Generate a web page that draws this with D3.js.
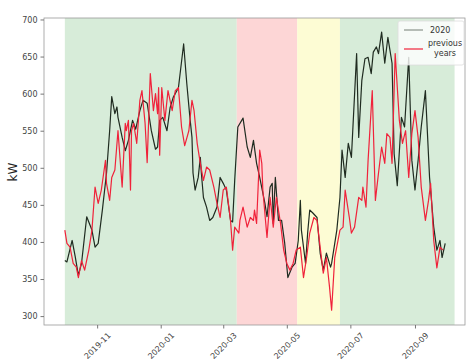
<!DOCTYPE html>
<html>
<head>
<meta charset="utf-8">
<script src="https://cdn.jsdelivr.net/npm/d3@7"></script>
<style>
  html, body { margin: 0; padding: 0; background: #fff; }
  svg text { font-family: "DejaVu Sans", sans-serif; }
</style>
</head>
<body>
<svg id="chart" width="471" height="364"></svg>
<script>
// Daily power demand, 2020 against the average of previous years (kW)
const dates2020 = [
  "2019-10-01","2019-10-03","2019-10-08","2019-10-11","2019-10-14","2019-10-17","2019-10-22","2019-10-27","2019-10-30",
  "2019-11-02","2019-11-06","2019-11-10","2019-11-13","2019-11-15","2019-11-18","2019-11-20","2019-11-21","2019-11-25","2019-11-28",
  "2019-12-01","2019-12-05","2019-12-08","2019-12-12","2019-12-15","2019-12-19","2019-12-23","2019-12-27","2019-12-29","2019-12-31",
  "2020-01-03","2020-01-07","2020-01-10","2020-01-13","2020-01-18","2020-01-23","2020-01-26","2020-01-29","2020-01-31",
  "2020-02-01","2020-02-03","2020-02-06","2020-02-08","2020-02-09","2020-02-11","2020-02-14","2020-02-17","2020-02-20","2020-02-24","2020-02-27",
  "2020-03-01","2020-03-04","2020-03-08","2020-03-10","2020-03-12","2020-03-15","2020-03-20","2020-03-24","2020-03-27","2020-03-30",
  "2020-04-02","2020-04-05","2020-04-10","2020-04-12","2020-04-15","2020-04-17","2020-04-18","2020-04-20","2020-04-23","2020-04-26","2020-04-29",
  "2020-05-02","2020-05-06","2020-05-09","2020-05-12","2020-05-14","2020-05-15","2020-05-19","2020-05-21","2020-05-23","2020-05-26","2020-05-30",
  "2020-06-02","2020-06-05","2020-06-08","2020-06-12","2020-06-13","2020-06-18","2020-06-21","2020-06-23","2020-06-26","2020-06-29",
  "2020-07-02","2020-07-07","2020-07-09","2020-07-12","2020-07-15","2020-07-18","2020-07-21","2020-07-23","2020-07-26","2020-07-28","2020-07-31",
  "2020-08-03","2020-08-06","2020-08-10","2020-08-12","2020-08-15","2020-08-19","2020-08-22","2020-08-26","2020-08-29",
  "2020-09-01","2020-09-04","2020-09-07","2020-09-11","2020-09-15","2020-09-19","2020-09-22","2020-09-25","2020-09-27","2020-09-30"
];
const values2020 = [
  375,373,402,380,355,371,434,416,393,
  398,443,493,550,596,573,582,568,541,523,
  537,564,552,577,591,587,550,525,528,564,
  568,550,581,595,608,667,614,568,541,
  493,470,487,514,493,460,447,429,433,447,487,
  479,470,429,427,483,555,567,528,514,537,
  506,487,452,434,474,479,425,487,429,429,398,
  352,366,371,402,456,416,371,412,443,439,433,
  385,362,385,366,371,416,460,524,487,533,
  514,654,541,618,647,649,627,656,663,654,683,
  641,676,641,519,476,568,555,649,510,
  470,510,555,604,487,420,389,402,379,398
];

const datesPrev = [
  "2019-10-01","2019-10-03","2019-10-06","2019-10-09","2019-10-12","2019-10-14","2019-10-17","2019-10-20","2019-10-24","2019-10-27","2019-10-30",
  "2019-11-02","2019-11-05","2019-11-09","2019-11-10","2019-11-13","2019-11-15","2019-11-18","2019-11-21","2019-11-25","2019-11-28","2019-11-29",
  "2019-12-01","2019-12-03","2019-12-04","2019-12-06","2019-12-09","2019-12-12","2019-12-14","2019-12-17","2019-12-19","2019-12-22","2019-12-25","2019-12-27","2019-12-29","2019-12-30","2019-12-31",
  "2020-01-02","2020-01-05","2020-01-08","2020-01-12","2020-01-15","2020-01-18","2020-01-21","2020-01-24","2020-01-28","2020-01-31",
  "2020-02-02","2020-02-05","2020-02-08","2020-02-11","2020-02-14","2020-02-17","2020-02-21","2020-02-24","2020-02-27",
  "2020-03-01","2020-03-04","2020-03-08","2020-03-10","2020-03-12","2020-03-16","2020-03-17","2020-03-20","2020-03-24","2020-03-27","2020-03-30","2020-03-31",
  "2020-04-02","2020-04-05","2020-04-07","2020-04-08","2020-04-12","2020-04-15","2020-04-18","2020-04-21","2020-04-25","2020-04-28",
  "2020-05-01","2020-05-04","2020-05-07","2020-05-10","2020-05-14","2020-05-17","2020-05-20","2020-05-23","2020-05-27","2020-05-30",
  "2020-06-02","2020-06-05","2020-06-08","2020-06-11","2020-06-13","2020-06-16","2020-06-21","2020-06-24","2020-06-26","2020-06-30",
  "2020-07-02","2020-07-05","2020-07-09","2020-07-12","2020-07-13","2020-07-16","2020-07-18","2020-07-22","2020-07-25","2020-07-28","2020-07-31",
  "2020-08-03","2020-08-05","2020-08-08","2020-08-10","2020-08-13","2020-08-17","2020-08-20","2020-08-23","2020-08-26","2020-08-29",
  "2020-09-01","2020-09-04","2020-09-07","2020-09-11","2020-09-14","2020-09-16","2020-09-19","2020-09-22","2020-09-25","2020-09-28"
];
const valuesPrev = [
  416,398,393,371,366,352,375,362,389,416,474,
  452,470,510,479,456,487,497,550,474,560,550,
  564,470,550,560,533,591,604,560,507,627,577,600,573,608,517,
  608,564,604,577,604,608,555,530,550,591,
  577,533,506,483,501,497,474,452,433,
  470,474,429,389,420,412,429,447,420,433,429,443,
  425,524,506,470,406,460,420,460,425,389,
  371,362,371,389,393,352,379,412,433,429,
  393,358,379,339,308,379,416,420,470,433,
  412,420,460,456,474,447,510,604,456,493,528,
  506,546,541,506,654,564,533,550,487,546,
  577,541,474,429,456,479,402,365,393,389
];

// Shaded periods
const periodStarts = ["2019-10-01","2020-03-14","2020-05-11","2020-06-21"];
const periodEnds   = ["2020-03-14","2020-05-11","2020-06-21","2020-10-09"];
const periodFills  = ["#d7ecd9","#fdd6d6","#fdfcd4","#d7ecd9"];

const xTickDates = ["2019-11-01","2020-01-01","2020-03-01","2020-05-01","2020-07-01","2020-09-01"];
const yTicks = [300,350,400,450,500,550,600,650,700];
const seriesNames = ["2020","previous years"];
const seriesColors = ["#1f2b20","#f0223a"];

const parse = d3.timeParse("%Y-%m-%d");
const svg = d3.select("#chart");
const margin = {left: 44, top: 18, right: 6, bottom: 39};
const W = 471 - margin.left - margin.right;
const H = 364 - margin.top - margin.bottom;
const g = svg.append("g").attr("transform", `translate(${margin.left},${margin.top})`);

const x = d3.scaleTime()
  .domain([parse("2019-09-11"), parse("2020-10-19")])
  .range([0, W]);
const y = d3.scaleLinear().domain([288, 702]).range([H, 0]);

// background periods
g.selectAll("rect.period")
  .data(periodStarts.map((s, i) => ({s: parse(s), e: parse(periodEnds[i]), c: periodFills[i]})))
  .join("rect")
  .attr("class", "period")
  .attr("x", d => x(d.s))
  .attr("width", d => x(d.e) - x(d.s))
  .attr("y", 0)
  .attr("height", H)
  .attr("fill", d => d.c);

const line = d3.line().x(d => x(d.date)).y(d => y(d.value));
const s2020 = dates2020.map((d, i) => ({date: parse(d), value: values2020[i]}));
const sPrev = datesPrev.map((d, i) => ({date: parse(d), value: valuesPrev[i]}));

g.append("path").datum(s2020)
  .attr("fill", "none").attr("stroke", seriesColors[0]).attr("stroke-width", 1.2)
  .attr("stroke-linejoin", "round").attr("d", line);
g.append("path").datum(sPrev)
  .attr("fill", "none").attr("stroke", seriesColors[1]).attr("stroke-width", 1.2)
  .attr("stroke-linejoin", "round").attr("d", line);

// frame
g.append("rect").attr("x", 0).attr("y", 0).attr("width", W).attr("height", H)
  .attr("fill", "none").attr("stroke", "#9a9a9a").attr("stroke-width", 0.8);

// y axis
const yAxis = g.append("g").call(d3.axisLeft(y).tickValues(yTicks).tickSize(3.5).tickPadding(3));
yAxis.select(".domain").remove();
yAxis.selectAll("line").attr("stroke", "#777");
yAxis.selectAll("text").attr("fill", "#444").style("font-size", "8px");

// x axis
const xAxis = g.append("g").attr("transform", `translate(0,${H})`)
  .call(d3.axisBottom(x).tickValues(xTickDates.map(parse)).tickFormat(d3.timeFormat("%Y-%m")).tickSize(3.5));
xAxis.select(".domain").remove();
xAxis.selectAll("line").attr("stroke", "#777");
xAxis.selectAll("text")
  .attr("fill", "#444").style("font-size", "8px")
  .attr("text-anchor", "middle").attr("dy", null)
  .attr("y", 21)
  .attr("transform", "rotate(-45,0,21)")
  .attr("dominant-baseline", "middle");

// y label
svg.append("text")
  .attr("transform", "translate(17,172) rotate(-90)")
  .attr("text-anchor", "middle")
  .style("font-size", "12px").attr("fill", "#222")
  .text("kW");

// legend
const lg = svg.append("g").attr("transform", "translate(398,21)");
lg.append("rect").attr("x", 0).attr("y", 0).attr("width", 66).attr("height", 44).attr("rx", 2)
  .attr("fill", "#fff").attr("fill-opacity", 0.8).attr("stroke", "#ddd").attr("stroke-width", 0.8);
lg.append("line").attr("x1", 6).attr("x2", 25).attr("y1", 9).attr("y2", 9)
  .attr("stroke", seriesColors[0]).attr("stroke-opacity", 0.6).attr("stroke-width", 1);
lg.append("text").attr("x", 32).attr("y", 12).style("font-size", "8px").attr("fill", "#333").text(seriesNames[0]);
lg.append("line").attr("x1", 6).attr("x2", 25).attr("y1", 28).attr("y2", 28)
  .attr("stroke", seriesColors[1]).attr("stroke-width", 1.2);
const tl = lg.append("text").style("font-size", "8px").attr("fill", "#333").attr("text-anchor", "middle");
tl.append("tspan").attr("x", 47).attr("y", 25).text("previous");
tl.append("tspan").attr("x", 47).attr("y", 35).text("years");
</script>
</body>
</html>
